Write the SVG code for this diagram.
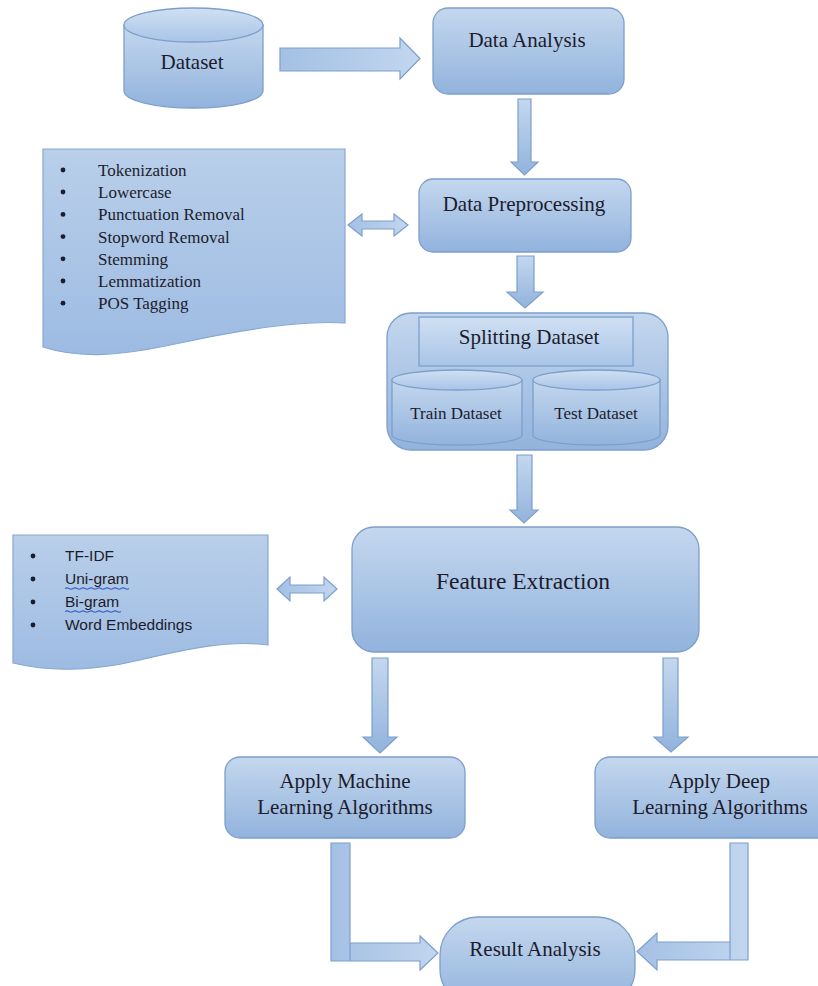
<svg xmlns="http://www.w3.org/2000/svg" width="818" height="986" viewBox="0 0 818 986">
<defs>
<linearGradient id="g" x1="0" y1="0" x2="0" y2="1">
<stop offset="0" stop-color="#c4d7ee"/>
<stop offset="1" stop-color="#92b3dd"/>
</linearGradient>
<linearGradient id="gl" x1="0" y1="0" x2="0" y2="1">
<stop offset="0" stop-color="#d0e0f3"/>
<stop offset="1" stop-color="#a9c4e7"/>
</linearGradient>
<linearGradient id="gh" x1="0" y1="0" x2="1" y2="0">
<stop offset="0" stop-color="#a4c0e4"/>
<stop offset="1" stop-color="#c2d6ee"/>
</linearGradient>
<linearGradient id="gd" x1="0" y1="0" x2="0" y2="1">
<stop offset="0" stop-color="#b9cfea"/>
<stop offset="1" stop-color="#9dbbe2"/>
</linearGradient>
</defs>
<style>
.shape{fill:url(#g);stroke:#7d9fcb;stroke-width:1.3}
.doc{fill:url(#gd);stroke:#88a8d2;stroke-width:1.2}
.top{fill:url(#gl);stroke:#7d9fcb;stroke-width:1.3}
.arr{fill:url(#g);stroke:#7d9fcb;stroke-width:1.2}
.arrh{fill:url(#gh);stroke:#7d9fcb;stroke-width:1.2}
.t{font-family:"Liberation Serif","Times New Roman",serif;fill:#1c1c2c;text-anchor:middle}
.l{font-family:"Liberation Serif","Times New Roman",serif;fill:#1c1c2c;font-size:17px}
.s{font-family:"Liberation Sans",Arial,sans-serif;fill:#1c1c2c;font-size:15.5px}
.ul{stroke:#3b63c8;stroke-width:1.3;fill:none}
</style>

<g id="connectors">
<polygon class="arrh" points="280,48 400,48 400,38 420,58.5 400,79 400,71 280,71"/>
<polygon class="arr" points="518,99 531,99 531,162 538,162 524.5,175 511,162 518,162"/>
<polygon class="arrh" points="348,225 362,214 362,221 394,221 394,214 408,225 394,236 394,229 362,229 362,236"/>
<polygon class="arr" points="517,256 534,256 534,292 543,292 525,308 507,292 517,292"/>
<polygon class="arr" points="517,455 532,455 532,510 538,510 524,523 510,510 517,510"/>
<polygon class="arrh" points="277,589 290,577 290,585 324,585 324,577 337,589 324,601 324,593 290,593 290,601"/>
<polygon class="arr" points="372,658 388,658 388,737 397,737 380,753 363,737 372,737"/>
<polygon class="arr" points="663,658 678,658 678,737 688,737 671,752 654,737 663,737"/>
<polygon class="arrh" points="331,843 350,843 350,943 420,943 420,936 438,953 420,970 420,961 331,961"/>
<line x1="350" y1="943" x2="350" y2="961" stroke="#7d9fcb" stroke-width="1.2"/>
<polygon class="arrh" points="730,843 748,843 748,960 657,960 657,970 637,951.5 657,933 657,942 730,942"/>
<line x1="730" y1="942" x2="730" y2="960" stroke="#7d9fcb" stroke-width="1.2"/>
</g>

<g id="dataset">
<path class="shape" d="M124,25 V91 A69.5,17 0 0 0 263,91 V25 Z"/>
<ellipse class="top" cx="193.5" cy="25" rx="69.5" ry="17"/>
<text class="t" x="192" y="69" font-size="21">Dataset</text>
</g>

<g id="data-analysis">
<rect class="shape" x="433" y="8" width="191" height="86" rx="15"/>
<text class="t" x="527" y="47" font-size="21">Data Analysis</text>
</g>

<g id="preprocessing-list">
<path class="doc" d="M43,149 H345 V323 C300,320 240,330 180,343 C120,356 80,359 43,347 Z"/>
<g fill="#1c1c2c">
<circle cx="63" cy="170" r="2.4"/><circle cx="63" cy="192" r="2.4"/><circle cx="63" cy="214.4" r="2.4"/>
<circle cx="63" cy="236.6" r="2.4"/><circle cx="63" cy="258.8" r="2.4"/><circle cx="63" cy="281" r="2.4"/>
<circle cx="63" cy="303.2" r="2.4"/>
</g>
<text class="l" x="98" y="176">Tokenization</text>
<text class="l" x="98" y="198.2">Lowercase</text>
<text class="l" x="98" y="220.4">Punctuation Removal</text>
<text class="l" x="98" y="242.6">Stopword Removal</text>
<text class="l" x="98" y="264.8">Stemming</text>
<text class="l" x="98" y="287">Lemmatization</text>
<text class="l" x="98" y="309.2">POS Tagging</text>
</g>

<g id="data-preprocessing">
<rect class="shape" x="419" y="179" width="212" height="73" rx="14"/>
<text class="t" x="524" y="211" font-size="21">Data Preprocessing</text>
</g>

<g id="splitting-dataset">
<rect class="shape" x="387" y="313" width="281" height="137" rx="24"/>
<rect x="419" y="317" width="214" height="49" fill="url(#gl)" stroke="#7d9fcb" stroke-width="1.3"/>
<text class="t" x="529" y="344" font-size="21">Splitting Dataset</text>
<g id="train-dataset">
<path class="shape" d="M392,380 V435 A65,10 0 0 0 522,435 V380 Z"/>
<ellipse class="top" cx="457" cy="380" rx="65" ry="10"/>
<text class="t" x="456" y="419" font-size="17">Train Dataset</text>
</g>
<g id="test-dataset">
<path class="shape" d="M533,380 V435 A63.5,10 0 0 0 660,435 V380 Z"/>
<ellipse class="top" cx="596.5" cy="380" rx="63.5" ry="10"/>
<text class="t" x="596" y="419" font-size="17">Test Dataset</text>
</g>
</g>

<g id="feature-list">
<path class="doc" d="M13,535 H268 V645 C230,640 190,648 140,660 C90,672 50,672 13,663 Z"/>
<g fill="#1c1c2c">
<circle cx="33" cy="556" r="2.4"/><circle cx="33" cy="579" r="2.4"/>
<circle cx="33" cy="602" r="2.4"/><circle cx="33" cy="625" r="2.4"/>
</g>
<text class="s" x="65" y="561">TF-IDF</text>
<text class="s" x="65" y="584">Uni-gram</text>
<text class="s" x="65" y="607">Bi-gram</text>
<text class="s" x="65" y="630">Word Embeddings</text>
<path class="ul" d="M65,588.5 q2,-1.2 4,0 t4,0 t4,0 t4,0 t4,0 t4,0 t4,0 t4,0 t4,0 t4,0 t4,0 t4,0 t4,0 t4,0 t4,0 t4,0"/>
<path class="ul" d="M65,611.5 q2,-1.2 4,0 t4,0 t4,0 t4,0 t4,0 t4,0 t4,0 t4,0 t4,0 t4,0 t4,0 t4,0 t4,0 t4,0"/>
</g>

<g id="feature-extraction">
<rect class="shape" x="352" y="527" width="347" height="125" rx="22"/>
<text class="t" x="523" y="589" font-size="23.5">Feature Extraction</text>
</g>

<g id="ml-algorithms">
<rect class="shape" x="225" y="757" width="240" height="81" rx="15"/>
<text class="t" x="345" y="788" font-size="21">Apply Machine</text>
<text class="t" x="345" y="814" font-size="21">Learning Algorithms</text>
</g>

<g id="dl-algorithms">
<rect class="shape" x="595" y="757" width="250" height="81" rx="15"/>
<text class="t" x="719" y="788" font-size="21">Apply Deep</text>
<text class="t" x="720" y="814" font-size="21">Learning Algorithms</text>
</g>

<g id="result-analysis">
<rect class="shape" x="440" y="917" width="195" height="90" rx="38"/>
<text class="t" x="535" y="956" font-size="21">Result Analysis</text>
</g>
</svg>
